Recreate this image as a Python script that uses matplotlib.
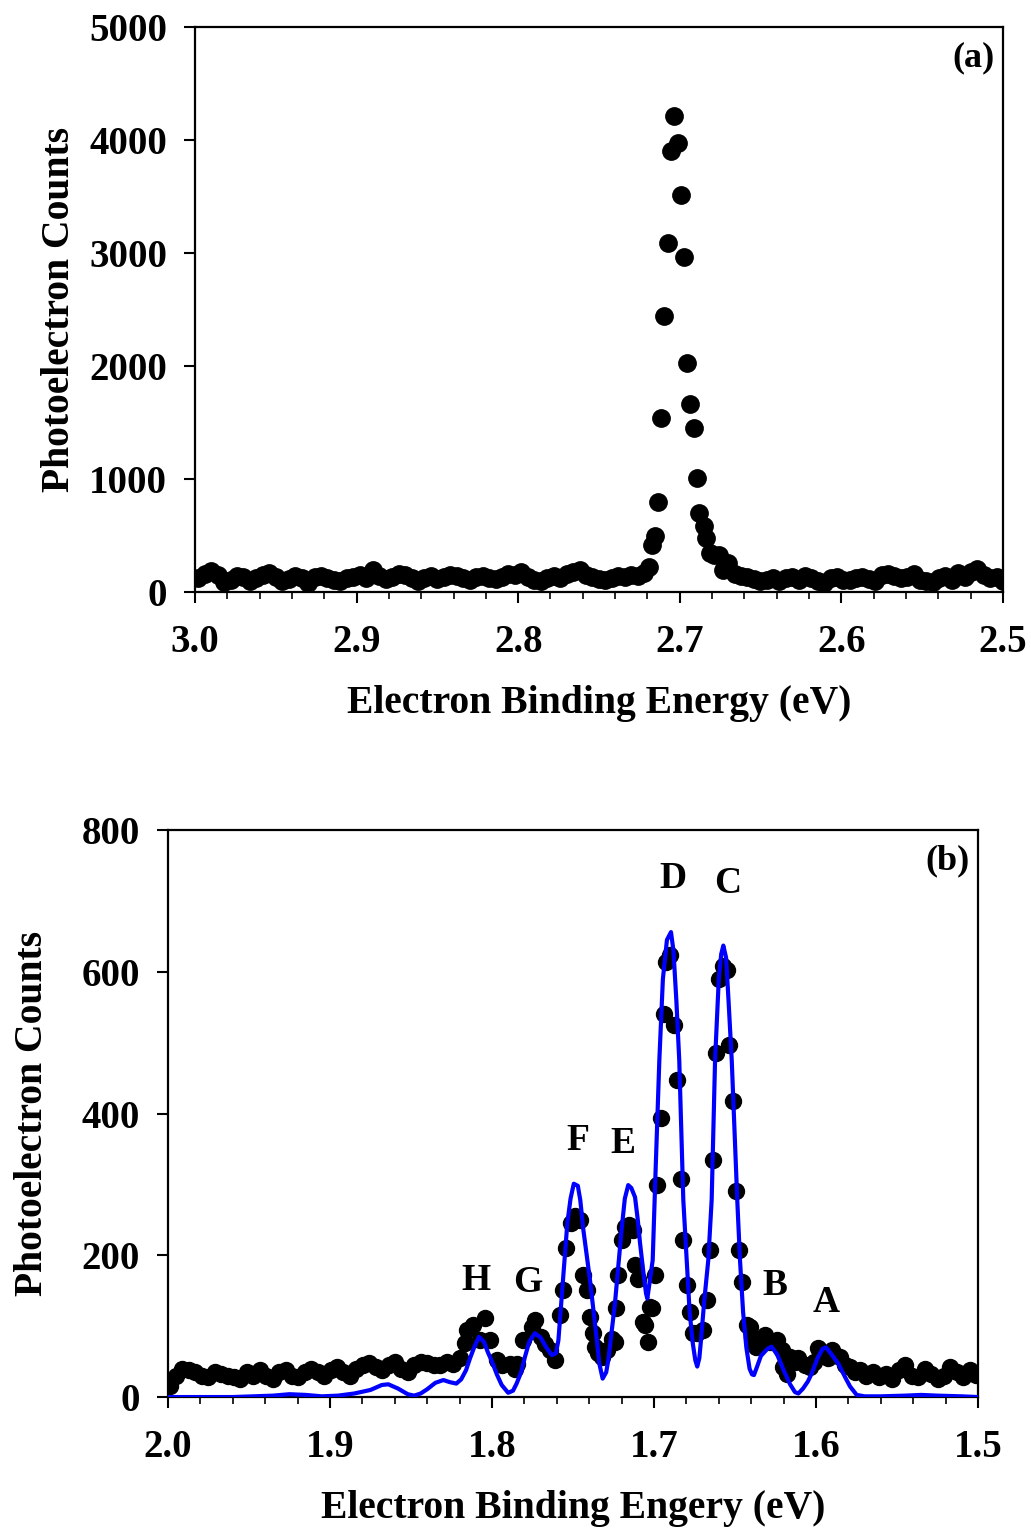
import numpy as np
import matplotlib
matplotlib.use("Agg")
import matplotlib.pyplot as plt
from matplotlib.ticker import MultipleLocator

plt.rcParams['font.family'] = ['Liberation Serif', 'DejaVu Serif']
plt.rcParams['font.weight'] = 'bold'

# ---- panel (a): 2.7 eV peak ----
a_left_y = [120, 160, 185, 150, 90, 110, 140, 130, 95, 120, 150, 165, 130, 100,
            115, 140, 120, 80, 130, 145, 125, 110, 95, 120, 135, 150, 125, 190,
            140, 115, 130, 160, 150, 120, 100, 125, 140, 115, 130, 150, 140, 120,
            105, 130, 145, 125, 115, 135, 160, 150, 180, 130, 110, 95, 120, 140,
            125, 160, 175, 195, 150, 130, 115, 105, 120, 140, 130, 150, 145, 170]
a_peak_x = [2.7190, 2.7174, 2.7153, 2.7135, 2.7114, 2.7096, 2.7073, 2.7056, 2.7036,
            2.7010, 2.6995, 2.6974, 2.6954, 2.6935, 2.6910, 2.6894, 2.6879, 2.6852,
            2.6835, 2.6813, 2.6790, 2.6760, 2.6730, 2.6700]
a_peak_y = [224, 416, 498, 794, 1537, 2445, 3091, 3906, 4212,
            3970, 3510, 2967, 2024, 1661, 1454, 1012, 702, 584,
            475, 342, 330, 327, 195, 257]
a_right_y = [160, 140, 130, 115, 100, 110, 125, 95, 120, 130, 110, 140, 120, 100,
             80, 120, 135, 110, 105, 125, 130, 115, 100, 150, 160, 140, 120, 130,
             155, 110, 100, 90, 125, 140, 105, 170, 130, 175, 200, 150, 120, 130, 100]

# ---- panel (b): 1.5-2.0 eV region ----
b_left_y = [15, 30, 40, 38, 35, 30, 28, 35, 32, 30, 28, 25, 35, 30, 38, 30, 25, 35,
            38, 30, 28, 35, 40, 35, 30, 38, 42, 35, 30, 40, 45, 48, 42, 38, 45, 50,
            40, 35, 45, 50, 48, 45]
b_peak_x = [1.8320, 1.8280, 1.8240, 1.8200, 1.8167, 1.8156, 1.8115, 1.8074, 1.8043,
            1.8012, 1.7970, 1.7940, 1.7889, 1.7860, 1.7848, 1.7807, 1.7755, 1.7735,
            1.7700, 1.7670, 1.7642, 1.7611, 1.7580, 1.7560, 1.7544, 1.7515, 1.7490,
            1.7457, 1.7436, 1.7415, 1.7395, 1.7375, 1.7364, 1.7345, 1.7323, 1.7292,
            1.7261, 1.7241, 1.7235, 1.7220, 1.7200, 1.7179, 1.7152, 1.7130, 1.7117,
            1.7097, 1.7066, 1.7056, 1.7035, 1.7025, 1.7014, 1.6994, 1.6980, 1.6957,
            1.6938, 1.6926, 1.6901, 1.6875, 1.6856, 1.6835, 1.6819, 1.6798, 1.6778,
            1.6757, 1.6737, 1.6696, 1.6675, 1.6654, 1.6634, 1.6615, 1.6597, 1.6572,
            1.6548, 1.6535, 1.6514, 1.6494, 1.6473, 1.6459, 1.6428, 1.6407, 1.6397,
            1.6370, 1.6340, 1.6315, 1.6285, 1.6243, 1.6212, 1.6202, 1.6181, 1.6160,
            1.6130, 1.6109, 1.6070, 1.6037, 1.6010, 1.5986, 1.5950, 1.5925, 1.5903,
            1.5852, 1.5820, 1.5790, 1.5760, 1.5728]
b_peak_y = [45, 50, 47, 55, 76, 94, 101, 80, 112,
            80, 52, 45, 47, 40, 47, 80, 99, 108,
            85, 75, 66, 52, 116, 151, 210, 245, 255,
            250, 172, 151, 113, 90, 71, 62, 57, 66,
            82, 78, 125, 172, 221, 240, 243, 235, 186,
            167, 106, 102, 78, 127, 125, 172, 299, 394,
            541, 614, 623, 525, 448, 307, 221, 158, 120,
            90, 90, 94, 137, 207, 335, 486, 590, 608,
            602, 496, 418, 290, 207, 163, 102, 99, 85,
            71, 75, 87, 78, 80, 66, 43, 33, 57,
            50, 55, 45, 43, 50, 69, 60, 55, 66,
            57, 45, 43, 35, 38]
b_right_y = [30, 35, 28, 32, 25, 38, 45, 30, 28, 40, 32, 25, 30, 42, 35, 28, 38, 31]

# simulated spectrum (blue line)
sim_x = [2.000, 1.960, 1.935, 1.925, 1.915, 1.905, 1.895, 1.885, 1.875, 1.868,
         1.864, 1.858, 1.852, 1.848, 1.844, 1.840, 1.835, 1.830, 1.826, 1.822,
         1.819, 1.816, 1.8135, 1.811, 1.808, 1.805, 1.8025, 1.800, 1.797, 1.794,
         1.790, 1.787, 1.7848, 1.782, 1.7796, 1.777, 1.7735, 1.770, 1.7665, 1.763,
         1.7605, 1.759, 1.757, 1.755, 1.7535, 1.7515, 1.7495, 1.747, 1.7455, 1.7436,
         1.7415, 1.7395, 1.7375, 1.7364, 1.735, 1.7338, 1.7317, 1.7295, 1.7282, 1.726,
         1.7241, 1.722, 1.720, 1.718, 1.7159, 1.714, 1.7117, 1.710, 1.7086, 1.7065,
         1.7049, 1.7041, 1.7025, 1.7008, 1.6990, 1.6967, 1.6945, 1.6920, 1.6895, 1.6880,
         1.6862, 1.6844, 1.6819, 1.6798, 1.6780, 1.6760, 1.6745, 1.6733, 1.6720, 1.6710,
         1.6690, 1.6665, 1.6644, 1.6623, 1.6600, 1.6585, 1.6572, 1.6555, 1.6540, 1.6520,
         1.6486, 1.6469, 1.6450, 1.6430, 1.6410, 1.6395, 1.6383, 1.6365, 1.6340, 1.6300,
         1.6274, 1.6240, 1.6200, 1.6160, 1.6130, 1.6109, 1.6080, 1.6050, 1.6027, 1.5990,
         1.5960, 1.5938, 1.5910, 1.5862, 1.5820, 1.5790, 1.5749, 1.5700, 1.5600, 1.5450,
         1.5350, 1.5250, 1.5100, 1.5000]
sim_y = [0, 0, 2, 4, 3, 1, 2, 5, 10, 17,
         18, 12, 4, 2, 5, 11, 20, 24, 21, 19,
         25, 38, 55, 70, 85, 78, 63, 50, 32, 17,
         6, 9, 19, 35, 57, 78, 90, 84, 70, 59,
         62, 80, 141, 200, 245, 280, 301, 298, 278, 236,
         200, 165, 125, 104, 75, 48, 26, 35, 52, 95,
         132, 185, 236, 280, 299, 295, 282, 250, 217, 175,
         146, 139, 165, 193, 320, 475, 590, 645, 656, 630,
         560, 475, 278, 193, 120, 75, 52, 43, 55, 80,
         135, 193, 278, 475, 590, 625, 637, 620, 560, 475,
         278, 193, 120, 70, 40, 32, 31, 42, 58, 68,
         71, 60, 38, 18, 7, 5, 12, 22, 33, 55,
         68, 70, 62, 47, 28, 15, 3, 1, 1, 2,
         3, 2, 1, 0]

b_letters = ['H', 'G', 'F', 'E', 'D', 'C', 'B', 'A']
b_letter_x = [1.8099, 1.7778, 1.7469, 1.7191, 1.6883, 1.6543, 1.6253, 1.5938]
b_letter_y = [165, 162, 362, 358, 732, 724, 157, 134]

a_x = np.concatenate([np.linspace(2.998, 2.722, len(a_left_y)), a_peak_x,
                      np.linspace(2.666, 2.500, len(a_right_y))])
a_y = np.concatenate([a_left_y, a_peak_y, a_right_y])
b_x = np.concatenate([np.linspace(1.999, 1.836, len(b_left_y)), b_peak_x,
                      np.linspace(1.569, 1.501, len(b_right_y))])
b_y = np.concatenate([b_left_y, b_peak_y, b_right_y])

fig = plt.figure(figsize=(10.31, 15.30), dpi=100)
ax1 = fig.add_axes([0.1891, 0.6131, 0.7837, 0.3693])
ax2 = fig.add_axes([0.1629, 0.0869, 0.7857, 0.3706])

TICK = 28
LAB = 28.5


def style(ax):
    for s in ax.spines.values():
        s.set_linewidth(1.6)
    ax.tick_params(axis='both', which='major', direction='out', length=8,
                   width=1.5, labelsize=TICK)
    ax.tick_params(axis='x', which='major', pad=15)
    ax.tick_params(axis='y', which='major', pad=12)
    ax.tick_params(axis='x', which='minor', direction='out', length=5, width=1.2)
    ax.tick_params(axis='y', which='minor', length=0)
    ax.xaxis.set_minor_locator(MultipleLocator(0.02))
    for lbl in ax.get_xticklabels() + ax.get_yticklabels():
        lbl.set_fontweight('bold')


ax1.plot(a_x, a_y, 'o', color='black', markersize=12.5, zorder=2)
ax1.set_xlim(3.0, 2.5)
ax1.set_ylim(0, 5000)
ax1.set_xticks([3.0, 2.9, 2.8, 2.7, 2.6, 2.5])
ax1.set_yticks([0, 1000, 2000, 3000, 4000, 5000])
style(ax1)
ax1.set_xlabel('Electron Binding Energy (eV)', fontsize=LAB, fontweight='bold', labelpad=17)
ax1.set_ylabel('Photoelectron Counts', fontsize=LAB, fontweight='bold', labelpad=8)
ax1.text(0.99, 0.975, '(a)', transform=ax1.transAxes, ha='right', va='top',
         fontsize=26, fontweight='bold')

ax2.plot(b_x, b_y, 'o', color='black', markersize=11.5, zorder=2)
ax2.plot(sim_x, sim_y, '-', color='#0000FF', linewidth=3.0, zorder=3)
ax2.set_xlim(2.0, 1.5)
ax2.set_ylim(0, 800)
ax2.set_xticks([2.0, 1.9, 1.8, 1.7, 1.6, 1.5])
ax2.set_yticks([0, 200, 400, 600, 800])
style(ax2)
ax2.set_xlabel('Electron Binding Engery (eV)', fontsize=LAB, fontweight='bold', labelpad=17)
ax2.set_ylabel('Photoelectron Counts', fontsize=LAB, fontweight='bold', labelpad=22)
ax2.text(0.99, 0.975, '(b)', transform=ax2.transAxes, ha='right', va='top',
         fontsize=26, fontweight='bold')
for t, x, y in zip(b_letters, b_letter_x, b_letter_y):
    ax2.text(x, y, t, ha='center', va='center', fontsize=27, fontweight='bold')

fig.savefig('out.png', dpi=100)
plt.close(fig)
